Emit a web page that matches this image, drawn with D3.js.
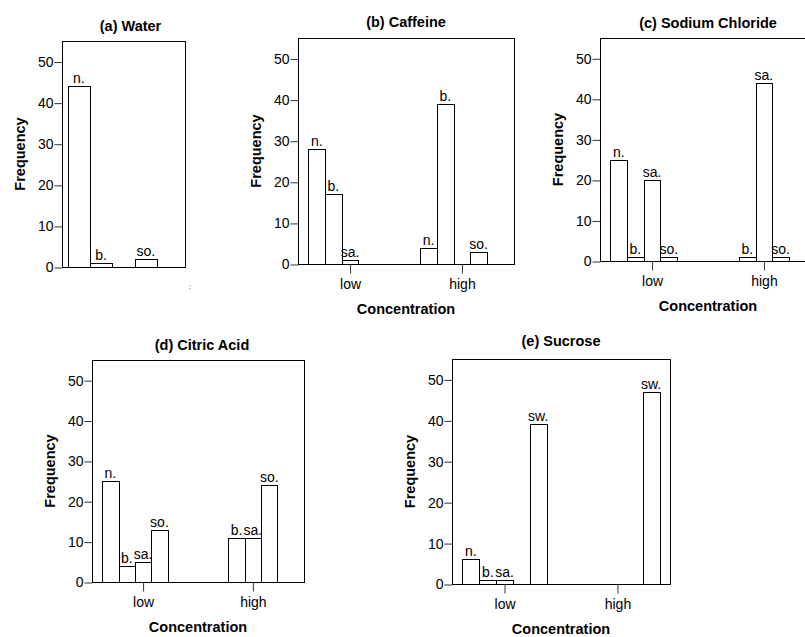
<!DOCTYPE html>
<html><head><meta charset="utf-8">
<script src="https://cdn.jsdelivr.net/npm/d3@7"></script>
<style>
html,body{margin:0;padding:0;background:#fff;}
svg{display:block;}
text{font-family:"Liberation Sans",Arial,Helvetica,sans-serif;fill:#000;}
</style></head>
<body>
<svg id="c" width="805" height="637"></svg>
<script>
// ---- data ----
const categories = ["n.", "b.", "sa.", "so.", "sw."];
const concentrations = ["low", "high"];
const yTicks = [0, 10, 20, 30, 40, 50];
const titles = ["(a) Water", "(b) Caffeine", "(c) Sodium Chloride", "(d) Citric Acid", "(e) Sucrose"];
const waterValues    = [44, 1, 0, 2, 0];
const caffeineLow    = [28, 17, 1, 0, 0];
const caffeineHigh   = [4, 39, 0, 3, 0];
const sodiumLow      = [25, 1, 20, 1, 0];
const sodiumHigh     = [0, 1, 44, 1, 0];
const citricLow      = [25, 4, 5, 13, 0];
const citricHigh     = [0, 11, 11, 24, 0];
const sucroseLow     = [6, 1, 1, 0, 39];
const sucroseHigh    = [0, 0, 0, 0, 47];
const yMax = 55;

// ---- layout (positions only) ----
const layout = [
  {left: 62,  right: 185, top: 41,  bottom: 267, pi: 0,     po: 0.0506, xaxis: false, titleY: 31,  titleDx: 7},
  {left: 298, right: 514, top: 38,  bottom: 264, pi: 0.255, po: 0.093,  xaxis: true,  titleY: 27,  titleDx: 0},
  {left: 600, right: 816, top: 38,  bottom: 261, pi: 0.255, po: 0.093,  xaxis: true,  titleY: 28,  titleDx: 0},
  {left: 92,  right: 304, top: 360, bottom: 582, pi: 0.255, po: 0.093,  xaxis: true,  titleY: 350, titleDx: 4},
  {left: 452, right: 670, top: 359, bottom: 584, pi: 0.255, po: 0.093,  xaxis: true,  titleY: 346, titleDx: 0}
];
const panelData = [
  {groups: ["water"], values: [waterValues]},
  {groups: concentrations, values: [caffeineLow, caffeineHigh]},
  {groups: concentrations, values: [sodiumLow, sodiumHigh]},
  {groups: concentrations, values: [citricLow, citricHigh]},
  {groups: concentrations, values: [sucroseLow, sucroseHigh]}
];

const svg = d3.select("#c");
const px = v => Math.round(v) + 0.5;
const FONT = '"Liberation Sans",Arial,Helvetica,sans-serif';

panelData.forEach((pd, i) => {
  const L = layout[i];
  const g = svg.append("g");
  const y = d3.scaleLinear().domain([0, yMax]).range([L.bottom, L.top]);
  const xg = d3.scaleBand().domain(pd.groups).range([L.left, L.right])
      .paddingInner(L.pi).paddingOuter(L.po);
  const xc = d3.scaleBand().domain(categories).range([0, xg.bandwidth()]);

  // bars
  pd.groups.forEach((grp, gi) => {
    const vals = pd.values[gi];
    const rows = categories.map((c, ci) => ({c, v: vals[ci]})).filter(d => d.v > 0);
    g.selectAll(null).data(rows).enter().append("rect")
      .attr("x", d => px(xg(grp) + xc(d.c)))
      .attr("y", d => px(y(d.v)))
      .attr("width", d => Math.round(xg(grp) + xc(d.c) + xc.bandwidth()) - Math.round(xg(grp) + xc(d.c)))
      .attr("height", d => Math.round(y(0)) - Math.round(y(d.v)))
      .attr("fill", "#fff").attr("stroke", "#000").attr("stroke-width", 1);
    g.selectAll(null).data(rows).enter().append("text")
      .attr("x", d => xg(grp) + xc(d.c) + xc.bandwidth() / 2)
      .attr("y", d => y(d.v) - 3)
      .attr("text-anchor", "middle")
      .attr("font-size", "14px")
      .text(d => d.c);
  });

  // frame
  g.append("rect")
    .attr("x", px(L.left)).attr("y", px(L.top))
    .attr("width", Math.round(L.right) - Math.round(L.left))
    .attr("height", Math.round(L.bottom) - Math.round(L.top))
    .attr("fill", "none").attr("stroke", "#000").attr("stroke-width", 1);

  // y axis
  const ya = d3.axisLeft(y).tickValues(yTicks).tickSize(8).tickPadding(1).tickFormat(d3.format("d"));
  const yg = g.append("g").attr("transform", `translate(${px(L.left)},0.5)`).call(ya);
  yg.select(".domain").remove();
  yg.selectAll(".tick line").attr("stroke", "#333");
  yg.selectAll(".tick text").attr("font-size", "14px").attr("font-family", FONT).attr("fill", "#000");

  // y title
  g.append("text")
    .attr("transform", `translate(${L.left - 37},${(L.top + L.bottom) / 2}) rotate(-90)`)
    .attr("text-anchor", "middle")
    .attr("font-size", "14.5px").attr("font-weight", "bold")
    .text("Frequency");

  // x axis
  if (L.xaxis) {
    const xa = d3.axisBottom(xg).tickSize(9).tickPadding(6);
    const xgAxis = g.append("g").attr("transform", `translate(0.5,${px(L.bottom)})`).call(xa);
    xgAxis.select(".domain").remove();
    xgAxis.selectAll(".tick line").attr("stroke", "#333");
    xgAxis.selectAll(".tick text").attr("font-size", "14px").attr("font-family", FONT).attr("fill", "#000");
    g.append("text")
      .attr("x", (L.left + L.right) / 2)
      .attr("y", L.bottom + 50)
      .attr("text-anchor", "middle")
      .attr("font-size", "14.5px").attr("font-weight", "bold")
      .text("Concentration");
  }

  // title
  g.append("text")
    .attr("x", (L.left + L.right) / 2 + L.titleDx)
    .attr("y", L.titleY)
    .attr("text-anchor", "middle")
    .attr("font-size", "14.5px").attr("font-weight", "bold")
    .text(titles[i]);
});

// small stray mark seen in the source image
svg.append("text").attr("x", 189).attr("y", 289).attr("font-size", "7px").attr("fill", "#888").text(":");
</script>
</body></html>
